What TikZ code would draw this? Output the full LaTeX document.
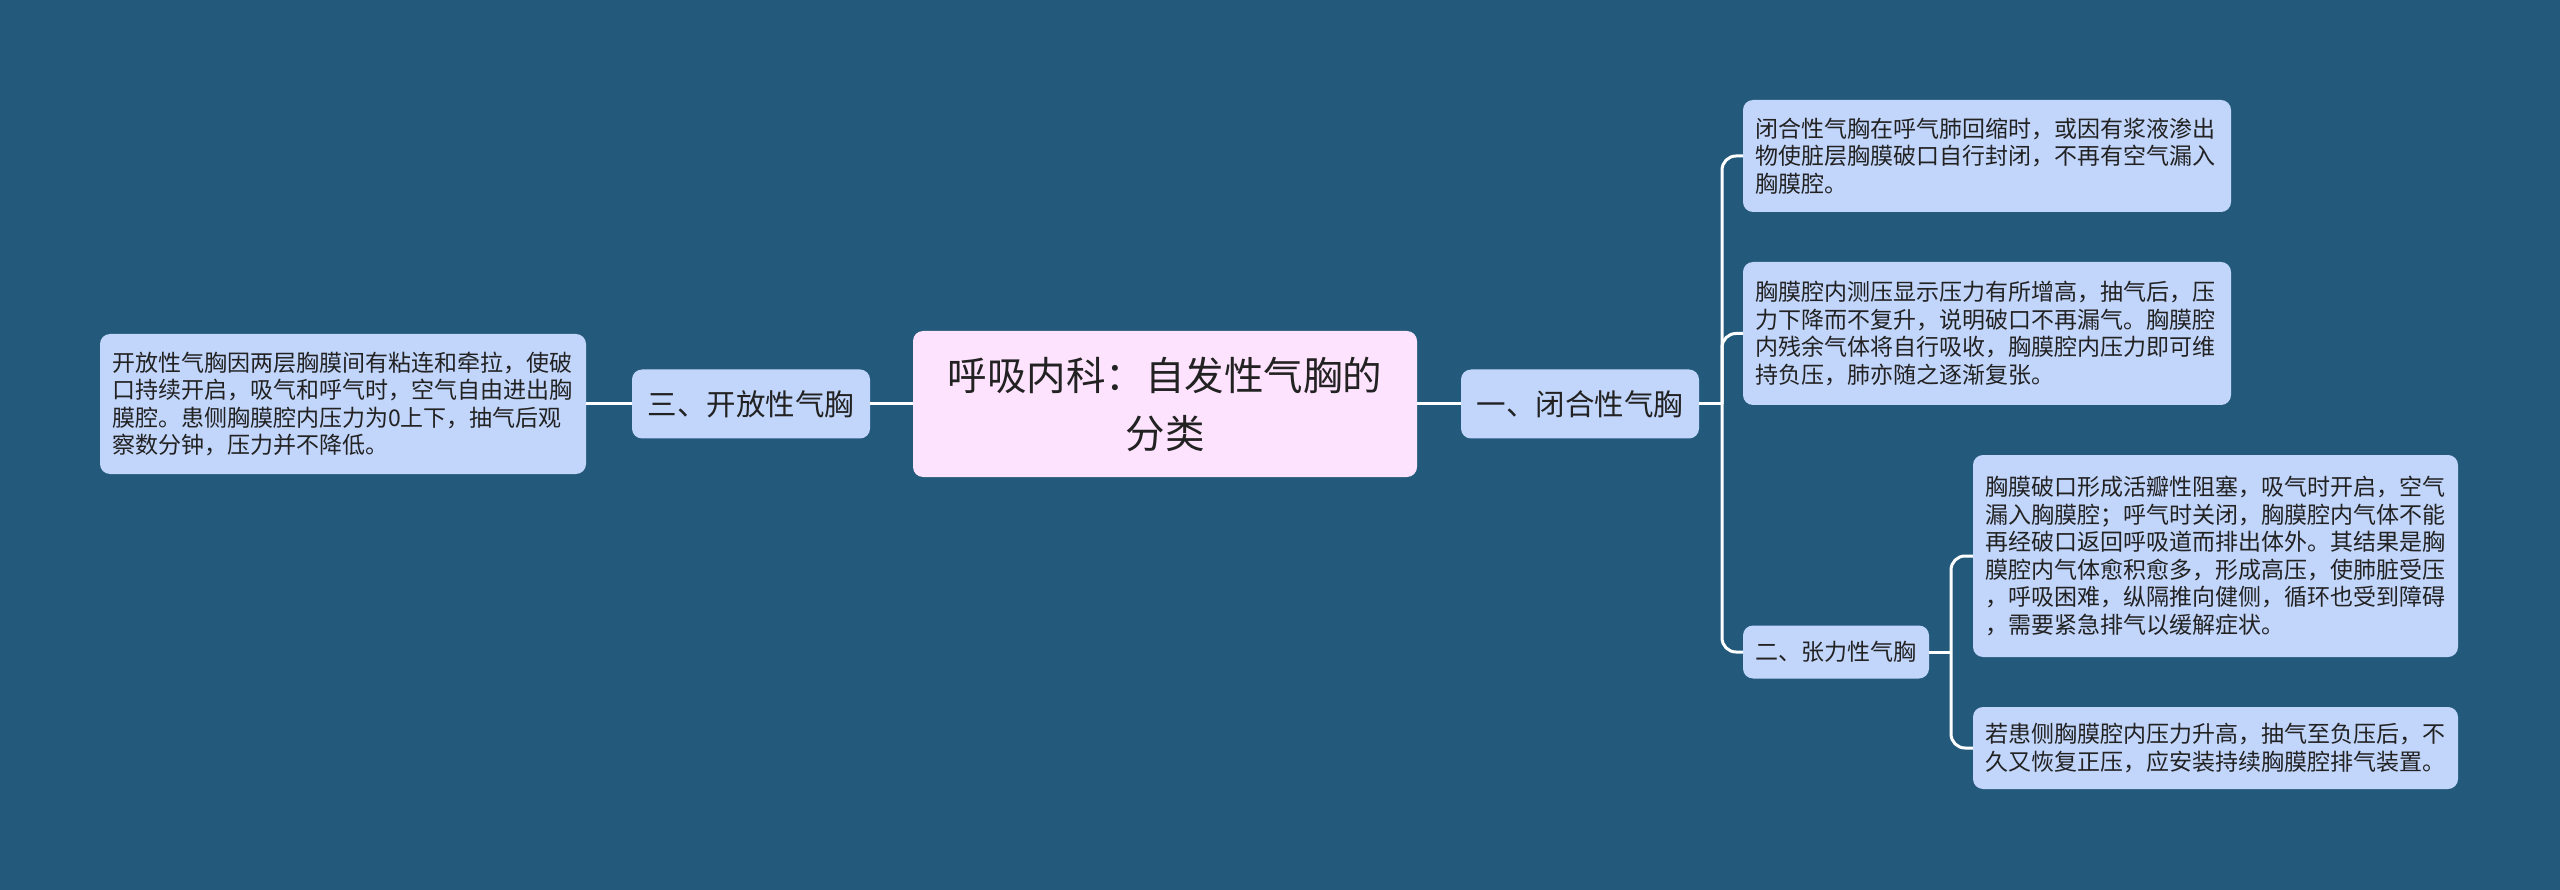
\documentclass[tikz,border=0pt]{standalone}
\usepackage{fontspec}
\newfontfamily\cjk{Noto Sans CJK SC}
\usetikzlibrary{calc}
\definecolor{bg}{HTML}{235A7B}
\definecolor{boxblue}{HTML}{C2D5FB}
\definecolor{boxpink}{HTML}{FDE3FD}
\definecolor{txt}{HTML}{222222}
\begin{document}
\begin{tikzpicture}[x=1pt,y=-1pt,
  box/.style={fill=boxblue, rounded corners=10pt, inner ysep=0pt, text=txt},
  leaf/.style={box, inner xsep=12pt, align=left, font=\cjk\fontsize{23}{27.5}\selectfont},
  topic/.style={box, inner sep=0pt, align=center, font=\cjk\fontsize{29.5}{35}\selectfont, minimum width=238pt, minimum height=69pt},
  conn/.style={draw=white, line width=3pt, rounded corners=14pt}]
\fill[bg] (0,0) rectangle (2560,890);
\useasboundingbox (0,0) rectangle (2560,890);

\node[box, fill=boxpink, inner sep=0pt, minimum width=504pt, minimum height=146pt, align=center, font=\cjk\fontsize{39.5}{58}\selectfont] (C) at (1165,404) {呼吸内科：自发性气胸的\\分类};
\node[topic] (B3) at (751,404) {三、开放性气胸};
\node[topic] (B1) at (1580,404) {一、闭合性气胸};
\node[leaf, text width=462pt, minimum height=140pt] (L) at (343,404) {开放性气胸因两层胸膜间有粘连和牵拉，使破\\口持续开启，吸气和呼气时，空气自由进出胸\\膜腔。患侧胸膜腔内压力为0上下，抽气后观\\察数分钟，压力并不降低。};
\node[leaf, text width=464pt, minimum height=112pt] (T1) at (1987,156) {闭合性气胸在呼气肺回缩时，或因有浆液渗出\\物使脏层胸膜破口自行封闭，不再有空气漏入\\胸膜腔。};
\node[leaf, text width=464pt, minimum height=143pt] (T2) at (1987,333.5) {胸膜腔内测压显示压力有所增高，抽气后，压\\力下降而不复升，说明破口不再漏气。胸膜腔\\内残余气体将自行吸收，胸膜腔内压力即可维\\持负压，肺亦随之逐渐复张。};
\node[box, inner sep=0pt, minimum width=186pt, minimum height=53pt, font=\cjk\fontsize{23}{27.5}\selectfont] (B2) at (1836,652) {二、张力性气胸};
\node[leaf, text width=461pt, minimum height=202pt] (T3) at (2215.5,556) {胸膜破口形成活瓣性阻塞，吸气时开启，空气\\漏入胸膜腔；呼气时关闭，胸膜腔内气体不能\\再经破口返回呼吸道而排出体外。其结果是胸\\膜腔内气体愈积愈多，形成高压，使肺脏受压\\，呼吸困难，纵隔推向健侧，循环也受到障碍\\，需要紧急排气以缓解症状。};
\node[leaf, text width=461pt, minimum height=82pt] (T4) at (2215.5,748) {若患侧胸膜腔内压力升高，抽气至负压后，不\\久又恢复正压，应安装持续胸膜腔排气装置。};

\coordinate (J1) at (1722,404);
\coordinate (J2) at (1951,652);
\draw[conn] (C.west) -- (B3.east);
\draw[conn] (B3.west) -- (L.east);
\draw[conn] (C.east) -- (B1.west);
\draw[conn] (B1.east) -- (J1);
\draw[conn] (J1) |- (T1.west);
\draw[conn] (J1) |- (T2.west);
\draw[conn] (J1) |- (B2.west);
\draw[conn] (B2.east) -- (J2);
\draw[conn] (J2) |- (T3.west);
\draw[conn] (J2) |- (T4.west);
\end{tikzpicture}
\end{document}
